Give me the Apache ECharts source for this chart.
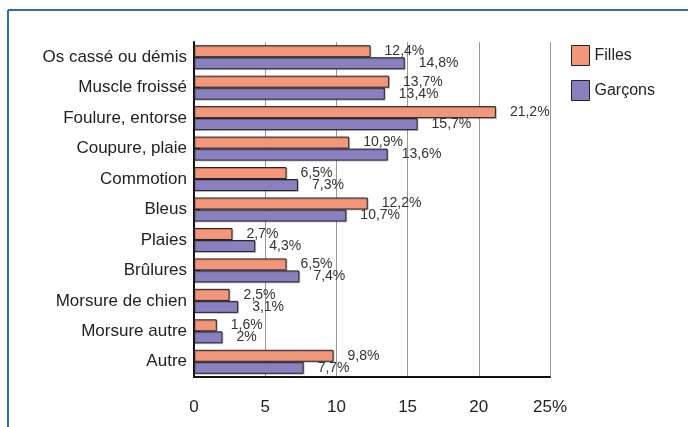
<!DOCTYPE html>
<html>
<head>
<meta charset="utf-8">
<script src="https://cdn.jsdelivr.net/npm/echarts@6/dist/echarts.min.js"></script>
<style>
  html, body { margin: 0; padding: 0; background: #fff; }
  #chart { width: 688px; height: 427px; }
</style>
</head>
<body>
<div id="chart"></div>
<script>
// categories top to bottom
const categories = [
  'Os cassé ou démis', 'Muscle froissé', 'Foulure, entorse', 'Coupure, plaie',
  'Commotion', 'Bleus', 'Plaies', 'Brûlures', 'Morsure de chien',
  'Morsure autre', 'Autre'
]
const filles = [12.4, 13.7, 21.2, 10.9, 6.5, 12.2, 2.7, 6.5, 2.5, 1.6, 9.8]
const garcons = [14.8, 13.4, 15.7, 13.6, 7.3, 10.7, 4.3, 7.4, 3.1, 2, 7.7]
const xTicks = [0, 5, 10, 15, 20, 25]

const fmt = v => String(v).replace('.', ',') + '%'

const chart = echarts.init(document.getElementById('chart'))

const barStyle = color => ({
  color: color,
  borderColor: '#222',
  borderWidth: 1,
  shadowColor: 'rgba(0,0,0,0.2)',
  shadowOffsetX: 1,
  shadowOffsetY: 1,
  shadowBlur: 0
})

const label = {
  show: true,
  position: 'right',
  distance: 14,
  fontSize: 14,
  color: '#333',
  formatter: p => fmt(p.value)
}

chart.setOption({
  animation: false,
  textStyle: { fontFamily: 'Liberation Sans' },
  graphic: [
    { type: 'line', shape: { x1: 8, y1: 10, x2: 700, y2: 10 }, style: { stroke: '#2b6cb0', lineWidth: 2 } },
    { type: 'line', shape: { x1: 8, y1: 10, x2: 8, y2: 440 }, style: { stroke: '#2b6cb0', lineWidth: 2 } }
  ],
  legend: {
    orient: 'vertical',
    left: 566,
    top: 40,
    itemWidth: 18,
    itemHeight: 20,
    itemGap: 14,
    icon: 'rect',
    textStyle: { fontSize: 16, color: '#222' },
    data: [
      { name: 'Filles', itemStyle: { borderColor: '#222', borderWidth: 1 } },
      { name: 'Garçons', itemStyle: { borderColor: '#222', borderWidth: 1 } }
    ]
  },
  grid: { left: 194, right: 138, top: 42, bottom: 50 },
  xAxis: {
    type: 'value',
    min: 0,
    max: 25,
    interval: 5,
    axisLine: { show: true, lineStyle: { color: '#111', width: 2 } },
    axisTick: { show: false },
    splitLine: { show: true, lineStyle: { color: '#999', width: 1 } },
    axisLabel: {
      margin: 22,
      fontSize: 17,
      color: '#222',
      formatter: v => xTicks.indexOf(v) === xTicks.length - 1 ? v + '%' : String(v)
    }
  },
  yAxis: {
    type: 'category',
    data: categories,
    inverse: true,
    axisLine: { show: true, lineStyle: { color: '#111', width: 2 } },
    axisTick: { show: true, inside: true, alignWithLabel: true, length: 6, lineStyle: { color: '#111' } },
    axisLabel: { fontSize: 17, color: '#222', margin: 7 }
  },
  series: [
    {
      name: 'Filles',
      type: 'bar',
      data: filles,
      barWidth: 12,
      barGap: '0%',
      itemStyle: barStyle('#f4967a'),
      label: label
    },
    {
      name: 'Garçons',
      type: 'bar',
      data: garcons,
      barWidth: 12,
      barGap: '0%',
      itemStyle: barStyle('#8a80bf'),
      label: label
    }
  ]
})
</script>
</body>
</html>
